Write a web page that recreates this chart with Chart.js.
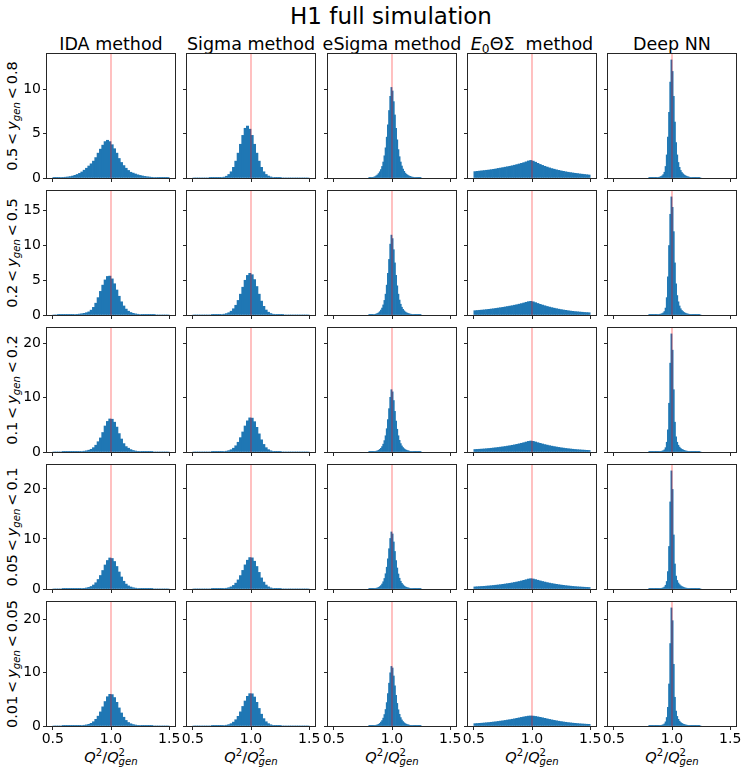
<!DOCTYPE html>
<html>
<head>
<meta charset="utf-8">
<script src="https://cdn.jsdelivr.net/npm/chart.js"></script>
<style>
    body { margin: 0; background: #fff; }
    #fig { position: relative; width: 747px; height: 773px; overflow: hidden; font-family: 'DejaVu Sans', sans-serif; color: #000; }
    #fig canvas { position: absolute; }
    .txt { position: absolute; white-space: nowrap; line-height: 1; }
    .txt i { font-style: italic; }
    .txt sub, .txt sup { font-size: 70%; line-height: 0; position: relative; vertical-align: baseline; }
    .txt sub { top: 0.3em; }
    .txt sup { top: -0.5em; }
    .txt sub.st { margin-left: -0.636em; font-style: italic; }
    .title { font-size: 23px; transform: translateX(-50%); }
    .coltitle { font-size: 17.5px; transform: translateX(-50%); }
    .rowlab { font-size: 14.5px; transform: translate(-50%, -50%) rotate(-90deg); }
    .rowlab .rel { margin: 0 0.2em; }
    .xlab { font-size: 14.5px; transform: translateX(-50%); }
</style>
</head>
<body>
<div id="fig"></div>
<script>
    // Axis setup
    const xTicks = [0.5, 1.0, 1.5];
    const yTicks = [[0, 5, 10], [0, 5, 10, 15], [0, 10, 20], [0, 10, 20], [0, 10, 20]];
    const refLine = 1.0;
    const yLow = ['0.5', '0.2', '0.1', '0.05', '0.01'];
    const yHigh = ['0.8', '0.5', '0.2', '0.1', '0.05'];

    // Bins: IDA / Sigma / E0ThetaSigma use 0.02 bins from 0.5,
    // eSigma / Deep NN use 0.01 bins from 0.8
    const wideStart = 0.5, wideStep = 0.02;
    const narrowStart = 0.8, narrowStep = 0.01;

    // IDA method
    const ida1 = [0.02,0.03,0.04,0.05,0.07, 0.09,0.12,0.16,0.22,0.30, 0.40,0.52,0.68,0.88,1.10, 1.35,1.60,1.90,2.30,2.80, 3.25,3.70,4.10,4.25,4.10, 3.75,3.30,2.80,2.20,1.75, 1.40,1.10,0.85,0.65,0.55, 0.45,0.36,0.29,0.23,0.18, 0.14,0.11,0.08,0.06,0.05, 0.04,0.03,0.02,0.02,0.01];
    const ida2 = [0,0,0.005,0.01,0.015, 0.02,0.03,0.04,0.05,0.07, 0.10,0.13,0.18,0.24,0.33, 0.45,0.70,1.10,1.70,2.50, 3.40,4.30,5.05,5.55,5.60, 5.20,4.50,3.60,2.70,1.90, 1.30,0.85,0.55,0.36,0.24, 0.16,0.11,0.07,0.05,0.03, 0.02,0.015,0.01,0.005,0, 0,0,0,0,0];
    const ida3 = [0,0,0,0,0.005, 0.005,0.01,0.01,0.02,0.03, 0.05,0.07,0.10,0.15,0.22, 0.33,0.50,0.80,1.25,1.90, 2.60,3.60,4.80,5.65,6.10, 6.05,5.50,4.60,3.40,2.40, 1.55,1.00,0.70,0.44,0.28, 0.18,0.12,0.08,0.05,0.03, 0.02,0.01,0.005,0,0, 0,0,0,0,0];
    const ida4 = [0,0,0,0,0.005, 0.005,0.01,0.01,0.02,0.03, 0.04,0.06,0.09,0.14,0.21, 0.32,0.50,0.80,1.25,1.90, 2.70,3.70,4.80,5.70,6.20, 6.10,5.50,4.50,3.40,2.40, 1.55,0.98,0.62,0.40,0.26, 0.17,0.11,0.07,0.05,0.03, 0.02,0.01,0.005,0,0, 0,0,0,0,0];
    const ida5 = [0,0,0,0,0.005, 0.005,0.01,0.01,0.02,0.03, 0.04,0.06,0.09,0.14,0.21, 0.32,0.50,0.80,1.25,1.85, 2.65,3.60,4.60,5.50,5.95, 5.90,5.35,4.45,3.40,2.45, 1.65,1.05,0.66,0.42,0.27, 0.18,0.12,0.08,0.05,0.03, 0.02,0.01,0.005,0,0, 0,0,0,0,0];

    // Sigma method
    const sig1 = [0,0,0,0,0, 0,0,0.005,0.01,0.015, 0.02,0.03,0.05,0.10,0.20, 0.40,0.70,1.20,1.90,2.80, 3.80,4.80,5.60,5.85,5.50, 4.80,3.80,2.80,1.90,1.20, 0.70,0.40,0.22,0.12,0.06, 0.03,0.02,0.01,0,0, 0,0,0,0,0, 0,0,0,0,0];
    const sig2 = [0,0,0,0,0, 0,0,0,0.005,0.01, 0.02,0.04,0.07,0.12,0.20, 0.33,0.55,0.90,1.40,2.10, 3.00,4.00,5.00,5.70,6.00, 5.80,5.10,4.10,3.00,2.00, 1.25,0.72,0.40,0.21,0.11, 0.06,0.03,0.015,0.01,0, 0,0,0,0,0, 0,0,0,0,0];
    const sig3 = [0,0,0,0,0, 0,0,0,0.005,0.01, 0.02,0.03,0.05,0.09,0.15, 0.25,0.42,0.70,1.15,1.80, 2.65,3.70,4.80,5.75,6.30, 6.25,5.60,4.55,3.35,2.25, 1.40,0.80,0.43,0.22,0.11, 0.05,0.025,0.01,0,0, 0,0,0,0,0, 0,0,0,0,0];
    const sig4 = [0,0,0,0,0, 0,0,0,0.005,0.01, 0.02,0.03,0.05,0.09,0.15, 0.26,0.43,0.72,1.17,1.82, 2.68,3.72,4.82,5.75,6.28, 6.22,5.55,4.50,3.32,2.22, 1.38,0.79,0.43,0.22,0.11, 0.05,0.025,0.01,0,0, 0,0,0,0,0, 0,0,0,0,0];
    const sig5 = [0,0,0,0,0, 0,0,0,0.005,0.01, 0.02,0.03,0.05,0.09,0.15, 0.26,0.44,0.73,1.18,1.82, 2.66,3.68,4.70,5.58,6.08, 6.05,5.45,4.45,3.30,2.22, 1.38,0.80,0.44,0.23,0.12, 0.06,0.03,0.01,0,0, 0,0,0,0,0, 0,0,0,0,0];

    // eSigma method
    const esig1 = [0.03,0.04,0.05,0.07,0.10, 0.15,0.25,0.35,0.50,0.70, 0.95,1.30,1.80,2.50,3.40, 4.60,6.00,7.60,9.20,10.20, 9.80,8.60,7.10,5.60,4.30, 3.20,2.40,1.80,1.35,1.00, 0.75,0.55,0.42,0.32,0.24, 0.18,0.13,0.10,0.08,0.06, 0.05,0.04,0.03,0.02,0.02];
    const esig2 = [0.02,0.03,0.04,0.05,0.07, 0.10,0.15,0.22,0.32,0.48, 0.70,1.00,1.45,2.10,3.00, 4.30,6.00,8.00,10.20,11.50, 11.00,9.40,7.50,5.70,4.20, 3.00,2.15,1.55,1.12,0.82, 0.60,0.44,0.33,0.25,0.19, 0.14,0.11,0.08,0.06,0.05, 0.04,0.03,0.02,0.02,0.01];
    const esig3 = [0.02,0.03,0.04,0.05,0.07, 0.10,0.15,0.22,0.32,0.48, 0.70,1.00,1.45,2.10,3.00, 4.30,6.00,8.00,10.10,11.50, 11.10,9.50,7.50,5.70,4.20, 3.00,2.15,1.55,1.12,0.82, 0.60,0.44,0.33,0.25,0.19, 0.14,0.11,0.08,0.06,0.05, 0.04,0.03,0.02,0.02,0.01];
    const esig4 = [0.02,0.03,0.04,0.05,0.07, 0.10,0.15,0.22,0.32,0.48, 0.70,1.00,1.45,2.10,3.05, 4.35,6.05,8.05,10.10,11.40, 11.00,9.40,7.50,5.70,4.20, 3.00,2.15,1.55,1.12,0.82, 0.60,0.44,0.33,0.25,0.19, 0.14,0.11,0.08,0.06,0.05, 0.04,0.03,0.02,0.02,0.01];
    const esig5 = [0.02,0.03,0.04,0.05,0.07, 0.10,0.15,0.22,0.32,0.48, 0.72,1.02,1.48,2.15,3.10, 4.40,6.10,8.05,10.00,11.20, 10.90,9.40,7.55,5.75,4.25, 3.05,2.20,1.58,1.14,0.83, 0.61,0.45,0.33,0.25,0.19, 0.14,0.11,0.08,0.06,0.05, 0.04,0.03,0.02,0.02,0.01];

    // E0 Theta Sigma method
    const e0_1 = [0.72,0.75,0.78,0.81,0.84, 0.87,0.90,0.94,0.98,1.02, 1.08,1.12,1.17,1.22,1.27, 1.32,1.38,1.44,1.51,1.58, 1.65,1.73,1.82,1.92,1.98, 1.90,1.78,1.65,1.53,1.42, 1.32,1.23,1.14,1.06,0.99, 0.92,0.86,0.80,0.75,0.70, 0.65,0.61,0.57,0.53,0.50, 0.46,0.43,0.40,0.37,0.34];
    const e0_2 = [0.62,0.65,0.68,0.71,0.74, 0.78,0.82,0.86,0.90,0.95, 1.00,1.05,1.10,1.16,1.22, 1.28,1.34,1.41,1.48,1.56, 1.64,1.73,1.83,1.92,1.97, 1.90,1.78,1.66,1.54,1.43, 1.33,1.23,1.14,1.06,0.98, 0.91,0.84,0.78,0.72,0.67, 0.62,0.57,0.53,0.49,0.46, 0.43,0.40,0.37,0.35,0.33];
    const e0_3 = [0.46,0.48,0.51,0.54,0.57, 0.61,0.65,0.69,0.74,0.79, 0.84,0.90,0.96,1.02,1.09, 1.16,1.24,1.32,1.41,1.51, 1.61,1.72,1.84,1.96,2.03, 1.97,1.85,1.72,1.60,1.48, 1.37,1.27,1.17,1.08,1.00, 0.92,0.85,0.78,0.72,0.66, 0.61,0.56,0.51,0.47,0.43, 0.40,0.37,0.34,0.31,0.29];
    const e0_4 = [0.42,0.45,0.48,0.51,0.54, 0.58,0.62,0.66,0.71,0.76, 0.81,0.87,0.93,1.00,1.07, 1.14,1.22,1.31,1.40,1.50, 1.61,1.73,1.86,1.99,2.06, 2.00,1.88,1.75,1.62,1.50, 1.39,1.28,1.18,1.09,1.01, 0.93,0.86,0.79,0.73,0.67, 0.62,0.57,0.52,0.48,0.44, 0.41,0.38,0.35,0.32,0.30];
    const e0_5 = [0.44,0.47,0.50,0.53,0.57, 0.61,0.65,0.70,0.75,0.80, 0.86,0.92,0.98,1.05,1.12, 1.19,1.27,1.35,1.44,1.53, 1.62,1.71,1.79,1.86,1.89, 1.86,1.80,1.72,1.63,1.54, 1.44,1.34,1.24,1.15,1.06, 0.98,0.90,0.83,0.76,0.70, 0.64,0.59,0.54,0.50,0.46, 0.42,0.39,0.36,0.33,0.31];

    // Deep NN
    const dnn1 = [0.01,0.01,0.01,0.02,0.02, 0.03,0.04,0.06,0.08,0.11, 0.16,0.24,0.38,0.65,1.30, 2.60,4.60,7.40,10.80,13.30, 12.00,9.20,6.30,4.00,2.60, 1.75,1.20,0.85,0.62,0.46, 0.35,0.27,0.20,0.15,0.11, 0.08,0.06,0.04,0.03,0.02, 0.02,0.01,0.01,0.01,0];
    const dnn2 = [0.01,0.01,0.01,0.02,0.02, 0.03,0.04,0.06,0.08,0.11, 0.15,0.20,0.30,0.50,1.00, 2.50,5.50,10.00,14.50,17.00, 15.50,12.00,7.50,4.50,2.80, 1.90,1.30,0.90,0.65,0.48, 0.36,0.27,0.20,0.15,0.11, 0.08,0.06,0.04,0.03,0.02, 0.02,0.01,0.01,0.01,0];
    const dnn3 = [0.01,0.01,0.01,0.01,0.02, 0.02,0.03,0.04,0.06,0.08, 0.11,0.16,0.24,0.40,0.80, 1.80,4.10,9.00,16.40,21.80, 18.80,11.50,5.50,2.80,1.80, 1.25,0.90,0.66,0.50,0.38, 0.29,0.22,0.17,0.13,0.10, 0.08,0.06,0.04,0.03,0.02, 0.02,0.01,0.01,0.01,0];
    const dnn4 = [0.01,0.01,0.01,0.01,0.02, 0.02,0.03,0.04,0.06,0.08, 0.11,0.16,0.24,0.40,0.75, 1.50,3.50,8.50,17.40,23.60, 19.90,10.80,5.00,2.60,1.70, 1.20,0.88,0.65,0.49,0.37, 0.28,0.21,0.16,0.12,0.09, 0.07,0.05,0.04,0.03,0.02, 0.02,0.01,0.01,0.01,0];
    const dnn5 = [0.01,0.01,0.01,0.01,0.02, 0.02,0.03,0.04,0.06,0.08, 0.11,0.16,0.24,0.40,0.78, 1.60,3.50,7.90,15.50,22.20, 19.80,11.60,5.40,2.80,1.80, 1.25,0.90,0.66,0.50,0.38, 0.29,0.22,0.17,0.13,0.10, 0.08,0.06,0.04,0.03,0.02, 0.02,0.01,0.01,0.01,0];

    // Panel grid: rows = y_gen ranges, columns = methods
    const colTitles = ['IDA method', 'Sigma method', 'eSigma method', '<i>E</i><sub>0</sub>ΘΣ&nbsp;&nbsp;method', 'Deep NN'];
    const colIsNarrow = [false, false, true, false, true];
    const grid = [
        [ida1, sig1, esig1, e0_1, dnn1],
        [ida2, sig2, esig2, e0_2, dnn2],
        [ida3, sig3, esig3, e0_3, dnn3],
        [ida4, sig4, esig4, e0_4, dnn4],
        [ida5, sig5, esig5, e0_5, dnn5]
    ];

    // Layout (px)
    const colLeft = [47, 187, 328, 468, 608];
    const rowTop = [54, 191, 328, 465, 602];
    const panelW = 128, panelH = 124;
    const padL = 44, padT = 16, padR = 16, padB = 26;

    const fig = document.getElementById('fig');

    function addText(cls, html, left, top) {
        const d = document.createElement('div');
        d.className = 'txt ' + cls;
        d.innerHTML = html;
        d.style.left = left + 'px';
        d.style.top = top + 'px';
        fig.appendChild(d);
        return d;
    }

    function toBars(values, start, step) {
        return values.map((v, i) => ({ x: +(start + step * (i + 0.5)).toFixed(4), y: v }));
    }

    // frame + reference line drawn on every panel
    const panelDecor = {
        id: 'panelDecor',
        afterDatasetsDraw(chart) {
            const { ctx, chartArea, scales } = chart;
            const x = scales.x.getPixelForValue(refLine);
            ctx.save();
            ctx.strokeStyle = 'rgba(255, 0, 0, 0.45)';
            ctx.lineWidth = 1.1;
            ctx.beginPath();
            ctx.moveTo(x, chartArea.top);
            ctx.lineTo(x, chartArea.bottom);
            ctx.stroke();
            ctx.restore();
        },
        afterDraw(chart) {
            const { ctx, chartArea } = chart;
            ctx.save();
            ctx.strokeStyle = '#262626';
            ctx.lineWidth = 1;
            ctx.strokeRect(chartArea.left - 0.5, chartArea.top - 0.5, chartArea.right - chartArea.left + 1, chartArea.bottom - chartArea.top + 1);
            ctx.restore();
        }
    };

    function makePanel(r, c) {
        const canvas = document.createElement('canvas');
        const w = panelW + padL + padR, h = panelH + padT + padB;
        canvas.width = w;
        canvas.height = h;
        canvas.style.width = w + 'px';
        canvas.style.height = h + 'px';
        canvas.style.left = (colLeft[c] - padL) + 'px';
        canvas.style.top = (rowTop[r] - padT) + 'px';
        fig.appendChild(canvas);

        const values = grid[r][c];
        const data = colIsNarrow[c] ? toBars(values, narrowStart, narrowStep) : toBars(values, wideStart, wideStep);
        const rowMax = Math.max(...grid[r].map(a => Math.max(...a)));

        new Chart(canvas.getContext('2d'), {
            type: 'bar',
            data: {
                datasets: [{
                    data: data,
                    backgroundColor: '#1f77b4',
                    borderWidth: 0,
                    barPercentage: 1,
                    categoryPercentage: 1
                }]
            },
            options: {
                responsive: false,
                animation: false,
                events: [],
                layout: { padding: { left: 0, top: padT, right: padR, bottom: 0 } },
                plugins: { legend: { display: false }, tooltip: { enabled: false } },
                scales: {
                    x: {
                        type: 'linear',
                        min: 0.45,
                        max: 1.55,
                        offset: false,
                        afterBuildTicks: (axis) => { axis.ticks = xTicks.map(v => ({ value: v })); },
                        afterFit: (axis) => { axis.height = padB; },
                        grid: { drawOnChartArea: false, drawTicks: true, tickLength: 4, color: '#262626', offset: false },
                        border: { display: false },
                        ticks: {
                            display: r === 4,
                            autoSkip: false,
                            maxRotation: 0,
                            padding: 1,
                            color: '#000',
                            font: { family: 'DejaVu Sans', size: 14 },
                            callback: (v) => Number(v).toFixed(1)
                        }
                    },
                    y: {
                        min: 0,
                        max: rowMax * 1.05,
                        afterBuildTicks: (axis) => { axis.ticks = yTicks[r].map(v => ({ value: v })); },
                        afterFit: (axis) => { axis.width = padL; },
                        grid: { drawOnChartArea: false, drawTicks: true, tickLength: 4, color: '#262626' },
                        border: { display: false },
                        ticks: {
                            display: c === 0,
                            autoSkip: false,
                            padding: 2,
                            color: '#000',
                            font: { family: 'DejaVu Sans', size: 14 },
                            callback: (v) => String(v)
                        }
                    }
                }
            },
            plugins: [panelDecor]
        });
    }

    // Titles and labels
    addText('title', 'H1 full simulation', 391, 4.5);
    colTitles.forEach((t, c) => addText('coltitle', t, colLeft[c] + panelW / 2, 35.5));
    yLow.forEach((lo, r) => {
        addText('rowlab', lo + '<span class="rel">&lt;</span><i>y</i><sub><i>gen</i></sub><span class="rel">&lt;</span>' + yHigh[r], 12, rowTop[r] + panelH / 2);
    });
    colLeft.forEach((l) => {
        addText('xlab', '<i>Q</i><sup>2</sup>/<i>Q</i><sup>2</sup><sub class="st">gen</sub>', l + panelW / 2, 749.5);
    });

    for (let r = 0; r < 5; r++) {
        for (let c = 0; c < 5; c++) {
            makePanel(r, c);
        }
    }
</script>
</body>
</html>
